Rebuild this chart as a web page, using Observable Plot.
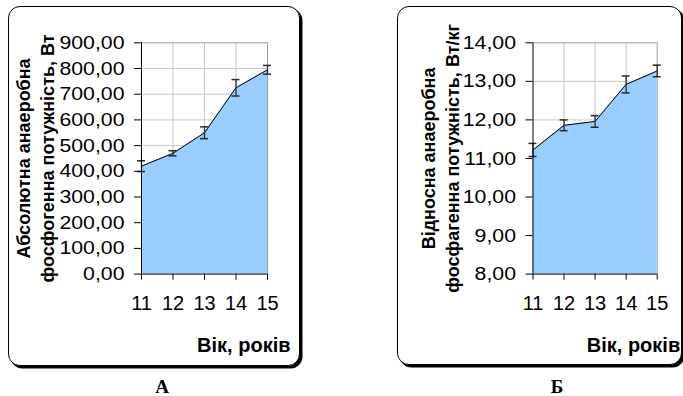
<!DOCTYPE html>
<html>
<head>
<meta charset="utf-8">
<script src="https://cdn.jsdelivr.net/npm/d3@7"></script>
<script src="https://cdn.jsdelivr.net/npm/@observablehq/plot@0.6"></script>
<style>
  html, body { margin: 0; padding: 0; background: #fff; }
  #stage { position: relative; width: 683px; height: 396px; overflow: hidden; background: #fff; }
  .frame { position: absolute; box-sizing: border-box; border: 1.5px solid #000; border-radius: 12px; box-shadow: 2.5px 2.5px 0 #000; background: #fff; }
  .panel { position: absolute; top: 0; }
  .letter { position: absolute; top: 376px; line-height: 19px; font: bold 19px "Liberation Serif", "Times New Roman", serif; transform: translateX(-50%); }
</style>
</head>
<body>
<div id="stage">
  <div class="frame" style="left:7.5px; top:5.5px; width:292px; height:360px;"></div>
  <div class="frame" style="left:397px; top:6px; width:285px; height:359px;"></div>
  <div class="panel" id="panelA" style="left:0;"></div>
  <div class="panel" id="panelB" style="left:340px;"></div>
  <div class="letter" style="left:162px;">А</div>
  <div class="letter" style="left:557px;">Б</div>
</div>
<script>
// Age groups (years)
const ages = [11, 12, 13, 14, 15];

// Absolute anaerobic phosphagen power, W (mean and error)
const absPower = [420, 470, 550, 725, 795];
const absErr = [21, 10, 23, 32, 17];
const absTicks = [0, 100, 200, 300, 400, 500, 600, 700, 800, 900];

// Relative anaerobic phosphagen power, W/kg (mean and error)
const relPower = [11.22, 11.86, 11.96, 12.92, 13.27];
const relErr = [0.17, 0.14, 0.15, 0.22, 0.15];
const relTicks = [8, 9, 10, 11, 12, 13, 14];

const xTitle = "Вік, років";
const absTitle = "Абсолютна анаеробна\nфосфогенна потужність, Вт";
const relTitle = "Відносна анаеробна\nфосфагенна потужність, Вт/кг";

const font = "Arial, 'Liberation Sans', sans-serif";
const fmt = (v) => v.toFixed(2).replace(".", ",");

function panel({values, errors, yTicks, title, width, marginLeft, marginRight, titleDx}) {
  const rows = ages.map((age, i) => ({age, v: values[i], lo: values[i] - errors[i], hi: values[i] + errors[i]}));
  const yMin = yTicks[0];
  const yMax = yTicks[yTicks.length - 1];
  const grid = "#c8c8c8";
  const errColor = "#2a2a2a";
  const svg = Plot.plot({
    width,
    height: 396,
    marginTop: 42.3,
    marginBottom: 122.4,
    marginLeft,
    marginRight,
    x: {domain: [ages[0], ages[ages.length - 1]]},
    y: {domain: [yMin, yMax]},
    style: {fontFamily: font, fontSize: "19px", background: "transparent", overflow: "visible", color: "#000"},
    marks: [
      // gridlines
      Plot.ruleY(yTicks.slice(1, -1), {stroke: grid}),
      Plot.ruleX(ages.slice(1, -1), {stroke: grid}),
      Plot.ruleY([yMax], {stroke: "#9a9a9a"}),
      Plot.ruleX([ages[ages.length - 1]], {stroke: "#9a9a9a"}),
      // filled area under the mean curve
      Plot.areaY(rows, {x: "age", y1: () => yMin, y2: "v", fill: "#99ccff"}),
      Plot.lineY(rows, {x: "age", y: "v", stroke: "#000", strokeWidth: 1}),
      // error bars with caps
      Plot.ruleX(rows, {x: "age", y1: "lo", y2: "hi", stroke: errColor, strokeWidth: 1.3}),
      Plot.ruleY(rows, {y: "hi", x1: "age", x2: "age", insetLeft: -4, insetRight: -4, stroke: errColor, strokeWidth: 1.5}),
      Plot.ruleY(rows, {y: "lo", x1: "age", x2: "age", insetLeft: -4, insetRight: -4, stroke: errColor, strokeWidth: 1.5}),
      // axis lines
      Plot.ruleX([ages[0]], {stroke: "#000"}),
      Plot.ruleY([yMin], {stroke: "#000"}),
      Plot.axisY({ticks: yTicks, tickFormat: fmt, tickSize: 7, tickPadding: 10, label: null, stroke: "#000"}),
      Plot.axisX({ticks: ages, tickFormat: (d) => String(d), tickSize: 6, tickPadding: 16, label: null, stroke: "#000", fontSize: 20}),
      // axis titles
      Plot.text([title], {text: (d) => d, frameAnchor: "left", textAnchor: "middle", rotate: -90, lineAnchor: "middle", lineHeight: 1.33, dx: titleDx, fontSize: 18, fontWeight: "bold", fill: "#000"}),
      Plot.text([xTitle], {text: (d) => d, frameAnchor: "bottom-right", textAnchor: "end", lineAnchor: "middle", dx: 23, dy: 71, fontSize: 20, fontWeight: "bold", fill: "#000"})
    ]
  });
  // widen the y tick labels horizontally
  svg.querySelectorAll('g[aria-label="y-axis tick label"] text').forEach((t) => {
    t.setAttribute("transform", (t.getAttribute("transform") || "") + " scale(1.12,1)");
  });
  return svg;
}

document.getElementById("panelA").append(panel({
  values: absPower, errors: absErr, yTicks: absTicks, title: absTitle,
  width: 340, marginLeft: 141, marginRight: 73, titleDx: -107.5
}));

document.getElementById("panelB").append(panel({
  values: relPower, errors: relErr, yTicks: relTicks, title: relTitle,
  width: 343, marginLeft: 192.5, marginRight: 26.3, titleDx: -93.5
}));
</script>
</body>
</html>
